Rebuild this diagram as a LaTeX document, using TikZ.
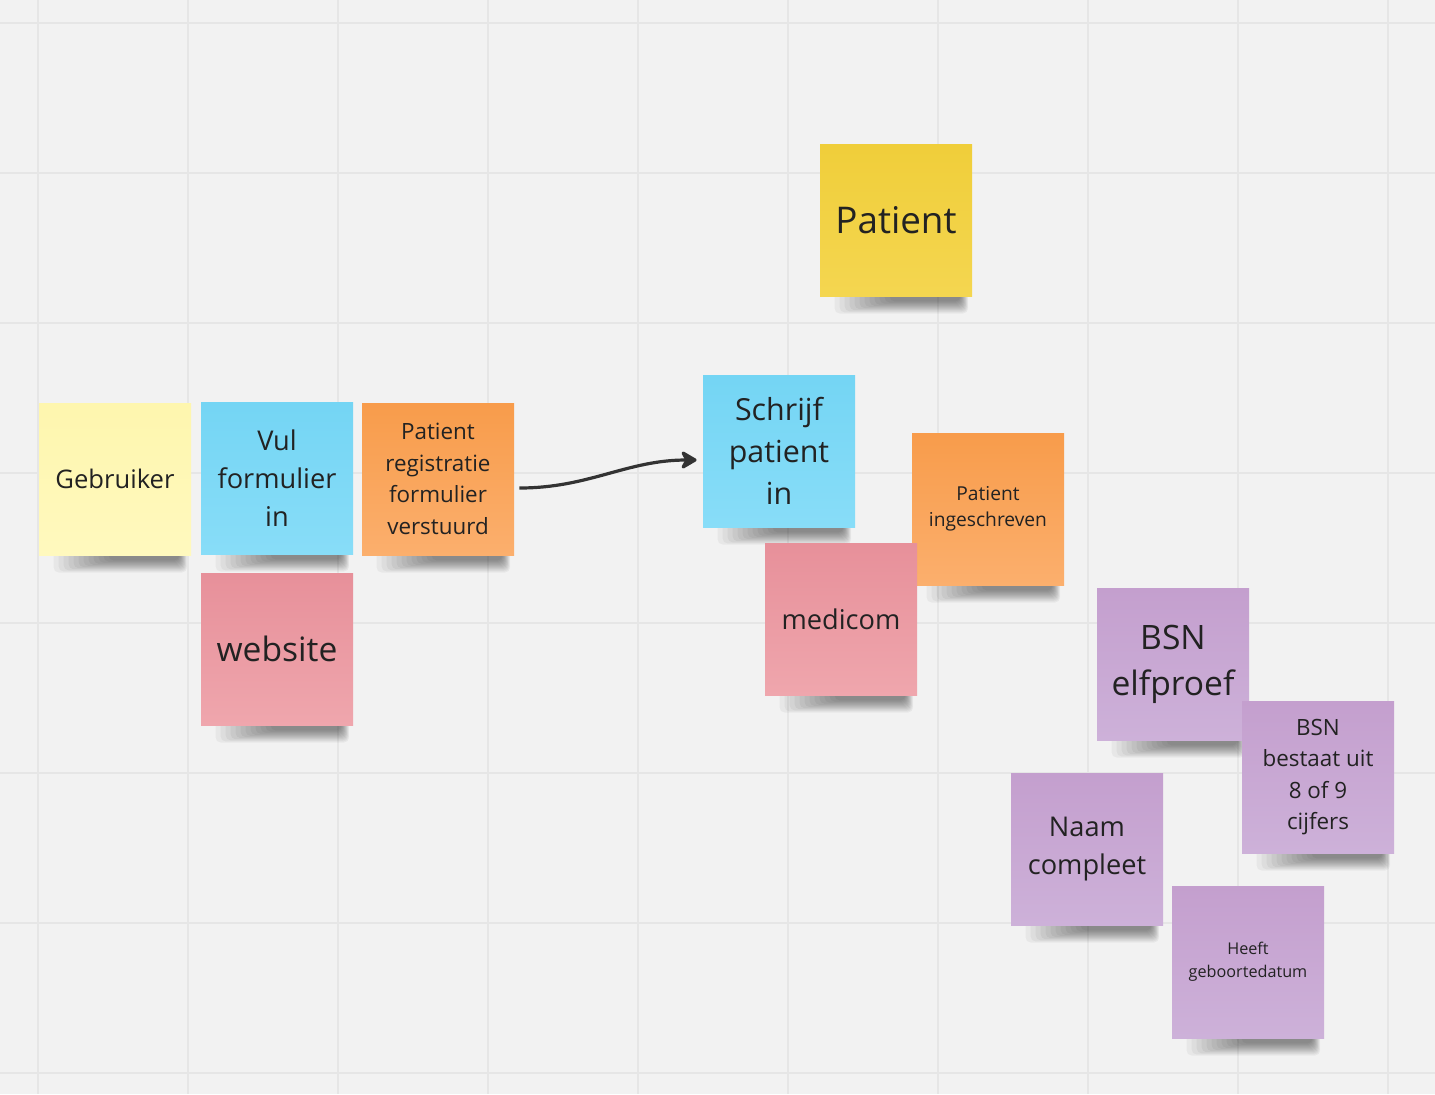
\documentclass[tikz,border=0pt]{standalone}
\usepackage{fontspec}
\setmainfont{Open Sans}
\usetikzlibrary{arrows.meta}

\definecolor{board}{HTML}{F2F2F2}
\definecolor{gridline}{HTML}{E6E6E6}
\definecolor{ink}{HTML}{222222}
\definecolor{arrowgrey}{HTML}{333333}
\definecolor{paletop}{HTML}{FEF6AE}\definecolor{palebot}{HTML}{FFF9BE}
\definecolor{goldtop}{HTML}{F0CE3A}\definecolor{goldbot}{HTML}{F4D650}
\definecolor{bluetop}{HTML}{74D5F4}\definecolor{bluebot}{HTML}{88DDF8}
\definecolor{orangetop}{HTML}{F89C4B}\definecolor{orangebot}{HTML}{FBAF6D}
\definecolor{pinktop}{HTML}{E7909A}\definecolor{pinkbot}{HTML}{EFA6AD}
\definecolor{purpletop}{HTML}{C49FCE}\definecolor{purplebot}{HTML}{CDB1D9}

\pgfdeclarelayer{board}
\pgfdeclarelayer{shade}
\pgfsetlayers{board,shade,main}

\begin{document}
\begin{tikzpicture}[x=0.5pt,y=-0.5pt,
  note/.style={rectangle,minimum width=76pt,minimum height=76pt,inner sep=0pt,
    align=center,text=ink},
  pale/.style={note,top color=paletop,bottom color=palebot},
  gold/.style={note,top color=goldtop,bottom color=goldbot},
  blue/.style={note,top color=bluetop,bottom color=bluebot},
  orange/.style={note,top color=orangetop,bottom color=orangebot},
  pink/.style={note,top color=pinktop,bottom color=pinkbot},
  purple/.style={note,top color=purpletop,bottom color=purplebot},
  shadowband/.style={fill=black,fill opacity=0.045,rounded corners=2.5pt},
  flow/.style={-{Stealth[length=9.5pt,width=11pt,inset=3pt,round]},
    line width=1.6pt,draw=arrowgrey}]

\useasboundingbox (0,0) rectangle (1435,1094);

% board with grid
\begin{pgfonlayer}{board}
\fill[board] (0,0) rectangle (1435,1094);
\foreach \gx in {38,188,...,1388} \draw[gridline,line width=1pt] (\gx,0) -- (\gx,1094);
\foreach \gy in {23,173,...,1073} \draw[gridline,line width=1pt] (0,\gy) -- (1435,\gy);
\end{pgfonlayer}

% left group
\node[pale,font={\fontsize{12.8}{18}\selectfont}](gebruiker) at (115,479){Gebruiker};
\node[blue,font={\fontsize{13.6}{19}\selectfont}](vul) at (277,478){Vul\\formulier\\in};
\node[orange,font={\fontsize{11.2}{15.75}\selectfont}](verstuurd) at (438,479){Patient\\registratie\\formulier\\verstuurd};
\node[pink,font={\fontsize{16.8}{22}\selectfont}](website) at (277,649){website};

% right group
\node[gold,font={\fontsize{18.4}{24}\selectfont}](patient) at (896,220){Patient};
\node[blue,font={\fontsize{15.2}{21}\selectfont}](schrijf) at (779,451){Schrijf\\patient\\in};
\node[orange,font={\fontsize{9.6}{13}\selectfont}](ingeschreven) at (988,509){Patient\\ingeschreven};
\node[pink,font={\fontsize{13.6}{19}\selectfont}](medicom) at (841,619){medicom};

% rules
\node[purple,font={\fontsize{16.8}{23}\selectfont}](elfproef) at (1173,664){BSN\\elfproef};
\node[purple,font={\fontsize{11.2}{15.6}\selectfont}](cijfers) at (1318,777){BSN\\bestaat uit\\8 of 9\\cijfers};
\node[purple,font={\fontsize{13.6}{19}\selectfont}](naam) at (1087,849){Naam\\compleet};
\node[purple,font={\fontsize{8.1}{11.5}\selectfont}](geboorte) at (1248,962){Heeft\\geboortedatum};

% soft shadows under the notes
\begin{pgfonlayer}{shade}
\foreach \n in {gebruiker,vul,verstuurd,website,patient,schrijf,ingeschreven,medicom,elfproef,cijfers,naam,geboorte}
  \foreach \k in {0,...,11}
    \fill[shadowband]([shift={(70-5*\k,-4)}]\n.south west) rectangle ([shift={(-12+0.7*\k,5+1.1*\k)}]\n.south east);
\end{pgfonlayer}

\draw[flow]([shift={(5,9)}]verstuurd.east) .. controls +(70,0) and +(-70,0) .. ([shift={(-6,9)}]schrijf.west);

\end{tikzpicture}
\end{document}
